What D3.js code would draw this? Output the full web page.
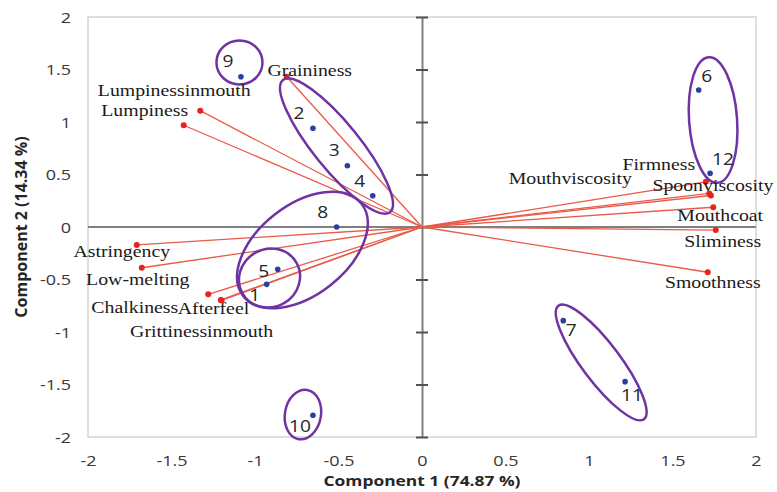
<!DOCTYPE html>
<html>
<head>
<meta charset="utf-8">
<script src="https://cdn.jsdelivr.net/npm/d3@7"></script>
<style>
  body { margin: 0; background: #fff; }
  svg { display: block; }
</style>
</head>
<body>
<div class="chart"></div>
<script>
// sample scores (blue) and attribute loadings (red)
const samples = ['1', '2', '3', '4', '5', '6', '7', '8', '9', '10', '11', '12'];
const sampleX = [-0.93, -0.653, -0.447, -0.295, -0.864, 1.657, 0.846, -0.511, -1.084, -0.653, 1.216, 1.725];
const sampleY = [-0.546, 0.94, 0.584, 0.298, -0.403, 1.305, -0.892, 0.0, 1.431, -1.793, -1.473, 0.511];

const attributes = ['Graininess', 'Lumpinessinmouth', 'Lumpiness', 'Astringency', 'Low-melting',
    'Chalkiness', 'Afterfeel', 'Grittinessinmouth', 'Firmness', 'Mouthviscosity',
    'Spoonviscosity', 'Mouthcoat', 'Sliminess', 'Smoothness'];
const attrX = [-0.81, -1.328, -1.427, -1.708, -1.678, -1.28, -1.205, -1.2, 1.70, 1.72, 1.73, 1.744, 1.759, 1.711];
const attrY = [1.431, 1.108, 0.969, -0.171, -0.388, -0.641, -0.695, -0.70, 0.43, 0.32, 0.30, 0.188, -0.029, -0.431];

const xTicks = [-2, -1.5, -1, -0.5, 0, 0.5, 1, 1.5, 2];
const yTicks = [-2, -1.5, -1, -0.5, 0, 0.5, 1, 1.5, 2];
const xTitle = 'Component 1 (74.87 %)';
const yTitle = 'Component 2 (14.34 %)';

// label placement (pixel offsets from the point)
const sampleLabelPos = {
    '1': [-12, 11], '2': [-14, -15], '3': [-13, -15], '4': [-13, -14], '5': [-14, 2], '6': [8, -14],
    '7': [8, 10], '8': [-14, -15], '9': [-13, -15], '10': [-13, 11], '11': [7, 14], '12': [13, -14]
};
const attrLabelPos = {
    'Graininess': [23, -7, 'middle'], 'Lumpinessinmouth': [-26, -20, 'middle'], 'Lumpiness': [-39, -15, 'middle'],
    'Astringency': [-15, 6, 'middle'], 'Low-melting': [-4, 11, 'middle'], 'Chalkiness': [-30, 13, 'end'],
    'Afterfeel': [-43, 8, 'start'], 'Grittinessinmouth': [-20, 31, 'middle'], 'Firmness': [-47, -18, 'middle'],
    'Mouthviscosity': [-139, -15, 'middle'], 'Spoonviscosity': [2, -10, 'middle'], 'Mouthcoat': [7, 8, 'middle'],
    'Sliminess': [7, 11, 'middle'], 'Smoothness': [5, 10, 'middle']
};
// cluster ellipses: centre in data units, radii in px, rotation in degrees
const clusters = [
    {c: [-1.093, 1.567], rx: 23, ry: 22, rot: 0},
    {c: [-0.512, 0.771], rx: 85, ry: 23, rot: 51},
    {c: [-0.716, -0.219], rx: 75, ry: 45, rot: -38},
    {c: [-0.913, -0.486], rx: 31, ry: 29, rot: -30},
    {c: [1.743, 1.019], rx: 24, ry: 63, rot: -4},
    {c: [1.073, -1.29], rx: 71, ry: 19, rot: 53},
    {c: [-0.713, -1.786], rx: 18, ry: 25, rot: 10}
];

const width = 777, height = 492;
const SX = 1.2; // the picture's text is a bit wide

const svg = d3.select('.chart').append('svg')
    .attr('width', width)
    .attr('height', height);

const x = d3.scaleLinear().domain([-2, 2]).range([88, 756]);
const y = d3.scaleLinear().domain([-2, 2]).range([437, 17]);

// frame
svg.append('rect')
    .attr('x', x(-2)).attr('y', y(2))
    .attr('width', x(2) - x(-2)).attr('height', y(-2) - y(2))
    .attr('fill', 'none').attr('stroke', '#d4d4d4').attr('stroke-width', 1.5);

// x tick labels
const gx = svg.append('g')
    .attr('transform', 'translate(0,' + y(-2) + ')')
    .call(d3.axisBottom(x).tickValues(xTicks).tickSize(0).tickPadding(0).tickFormat(d => String(d)));
gx.select('.domain').remove();
gx.selectAll('text')
    .attr('y', 24).attr('dy', '0.35em')
    .attr('transform', 'scale(' + SX + ',1)')
    .style('font-family', 'Open Sans').style('font-size', '15px').attr('fill', '#383838');

// y tick labels
const gy = svg.append('g')
    .attr('transform', 'translate(' + x(-2) + ',0)')
    .call(d3.axisLeft(y).tickValues(yTicks).tickSize(0).tickFormat(d => String(d)));
gy.select('.domain').remove();
gy.selectAll('text')
    .attr('x', -17 / SX).attr('dy', '0.35em')
    .attr('transform', 'scale(' + SX + ',1)')
    .style('font-family', 'Open Sans').style('font-size', '15px').attr('fill', '#383838');

// zero lines
svg.append('line')
    .attr('x1', x(-2)).attr('x2', x(2)).attr('y1', y(0)).attr('y2', y(0))
    .attr('stroke', '#808080').attr('stroke-width', 2);
const g0 = svg.append('g')
    .attr('transform', 'translate(' + x(0) + ',0)')
    .call(d3.axisLeft(y).tickValues(yTicks).tickSizeInner(6).tickSizeOuter(0).tickFormat(''));
g0.select('.domain').attr('stroke', '#808080').attr('stroke-width', 2);
g0.selectAll('.tick line').attr('x1', 6).attr('stroke', '#505050').attr('stroke-width', 2);

// loading vectors
svg.append('g').selectAll('line')
    .data(attributes)
    .join('line')
    .attr('x1', x(0)).attr('y1', y(0))
    .attr('x2', (d, i) => x(attrX[i]))
    .attr('y2', (d, i) => y(attrY[i]))
    .attr('stroke', '#ea5a47').attr('stroke-width', 1.3);

svg.append('g').selectAll('circle')
    .data(attributes)
    .join('circle')
    .attr('cx', (d, i) => x(attrX[i]))
    .attr('cy', (d, i) => y(attrY[i]))
    .attr('r', 3)
    .attr('fill', '#e8231c');

// sample points
svg.append('g').selectAll('circle')
    .data(samples)
    .join('circle')
    .attr('cx', (d, i) => x(sampleX[i]))
    .attr('cy', (d, i) => y(sampleY[i]))
    .attr('r', 2.8)
    .attr('fill', '#2b3f9e');

// cluster ellipses
svg.append('g').selectAll('ellipse')
    .data(clusters)
    .join('ellipse')
    .attr('transform', d => 'translate(' + x(d.c[0]) + ',' + y(d.c[1]) + ') rotate(' + d.rot + ')')
    .attr('rx', d => d.rx).attr('ry', d => d.ry)
    .attr('fill', 'none').attr('stroke', '#6f33a3').attr('stroke-width', 2.5);

// labels
svg.append('g').selectAll('text')
    .data(attributes)
    .join('text')
    .attr('transform', (d, i) => 'translate(' + (x(attrX[i]) + attrLabelPos[d][0]) + ',' +
        (y(attrY[i]) + attrLabelPos[d][1]) + ') scale(' + SX + ',1)')
    .attr('dy', '0.35em')
    .attr('text-anchor', d => attrLabelPos[d][2])
    .style('font-family', 'Liberation Serif').style('font-size', '16.5px')
    .attr('fill', '#1a1a1a')
    .text(d => d);

svg.append('g').selectAll('text')
    .data(samples)
    .join('text')
    .attr('transform', (d, i) => 'translate(' + (x(sampleX[i]) + sampleLabelPos[d][0]) + ',' +
        (y(sampleY[i]) + sampleLabelPos[d][1]) + ') scale(' + SX + ',1)')
    .attr('dy', '0.35em')
    .attr('text-anchor', 'middle')
    .style('font-family', 'Open Sans').style('font-size', '16px')
    .attr('fill', '#262626')
    .text(d => d);

// axis titles
svg.append('text')
    .attr('transform', 'translate(' + x(0) + ',481) scale(' + SX + ',1)')
    .attr('dy', '0.35em').attr('text-anchor', 'middle')
    .style('font-family', 'Open Sans').style('font-size', '14.5px').style('font-weight', 'bold')
    .attr('fill', '#262626')
    .text(xTitle);

svg.append('text')
    .attr('transform', 'translate(21,' + y(0) + ') rotate(-90)')
    .attr('dy', '0.35em').attr('text-anchor', 'middle')
    .style('font-family', 'Open Sans').style('font-size', '16px').style('font-weight', 'bold')
    .attr('fill', '#262626')
    .text(yTitle);
</script>
</body>
</html>
